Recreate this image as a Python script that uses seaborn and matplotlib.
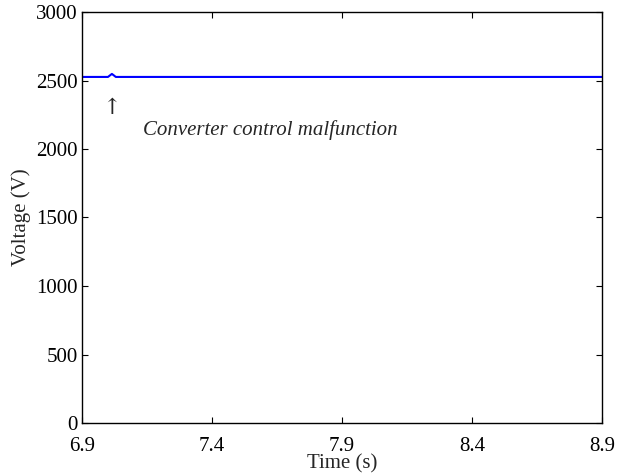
import matplotlib
matplotlib.use("Agg")
import matplotlib.pyplot as plt
import seaborn as sns
import pandas as pd

# Data
time_s = [6.90, 7.000, 7.008, 7.015, 7.022, 7.030, 8.90]
voltage_v = [2526, 2526, 2538, 2548, 2538, 2526, 2526]
x_ticks = [6.9, 7.4, 7.9, 8.4, 8.9]
y_ticks = [0, 500, 1000, 1500, 2000, 2500, 3000]
annotation = "Converter control malfunction"

sns.set_style("ticks")
plt.rcParams['font.family'] = ['Liberation Serif', 'DejaVu Serif']
plt.rcParams['mathtext.fontset'] = 'stix'

df = pd.DataFrame({"Time (s)": time_s, "Voltage (V)": voltage_v})

fig = plt.figure(figsize=(6.18, 4.76), dpi=100)
ax = fig.add_axes([82/618, 1-423/476, (602-82)/618, (423-12)/476])

sns.lineplot(data=df, x="Time (s)", y="Voltage (V)", ax=ax, color=(0, 0, 1), linewidth=1.5)

ax.set_xlim(6.9, 8.9)
ax.set_ylim(0, 3000)
ax.set_xticks(x_ticks)
ax.set_xticklabels([f"{t:.1f}" for t in x_ticks])
ax.set_yticks(y_ticks)
ax.set_yticklabels([str(v) for v in y_ticks])
ax.tick_params(direction='in', length=4, width=0.8, top=True, right=True,
               labelsize=15, colors='black')
ax.tick_params(axis='x', pad=10)
ax.tick_params(axis='y', pad=3)
for s in ax.spines.values():
    s.set_visible(True)
    s.set_linewidth(1.0)
    s.set_color('black')
ax.set_xlabel("Time (s)", fontsize=15, labelpad=-1)
ax.set_ylabel("Voltage (V)", fontsize=15, labelpad=4)

ax.text(7.013, 2300, "\u2191", fontsize=16, ha='center', va='center',
        family=['DejaVu Serif'])
ax.text(7.135, 2140, annotation, fontsize=15, style='italic', ha='left', va='center')

fig.savefig("out.png", dpi=100)
